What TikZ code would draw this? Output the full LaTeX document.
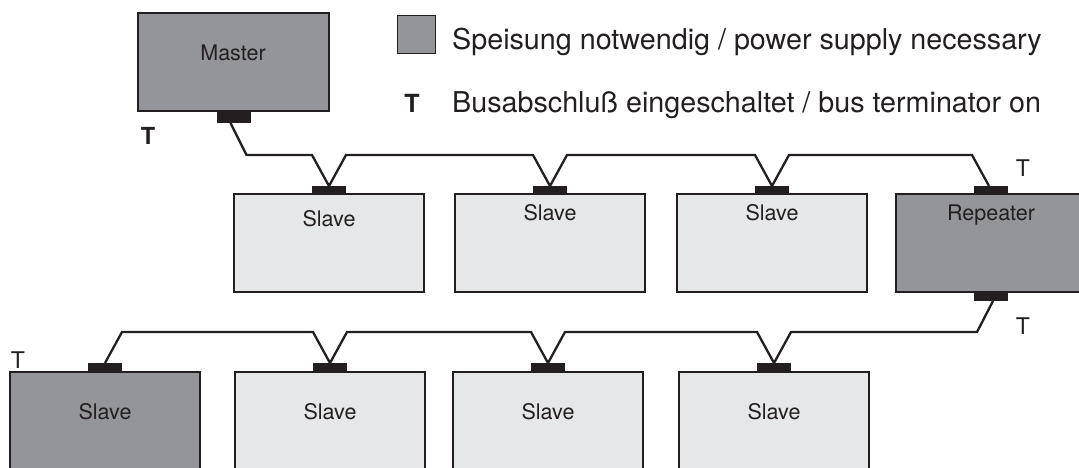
\documentclass[tikz,border=0pt]{standalone}
\usepackage{fontspec}
\setmainfont{TeX Gyre Heros}
\usetikzlibrary{calc}
\definecolor{ink}{HTML}{231F20}
\definecolor{darkfill}{HTML}{939598}
\definecolor{lightfill}{HTML}{E6E7E8}
\tikzset{
  box/.style={draw=ink, line width=1.4pt, minimum width=190pt, minimum height=98pt, inner sep=0pt, outer sep=0pt, anchor=north west},
  powered/.style={box, fill=darkfill},
  passive/.style={box, fill=lightfill},
  plug/.style={fill=ink, draw=none, minimum width=34pt, minimum height=8pt, inner sep=0pt, outer sep=0pt, anchor=south},
  cable/.style={draw=ink, line width=2.3pt, line join=miter},
  lbl/.style={font=\fontsize{21.5}{25}\selectfont, text=ink, anchor=base, inner sep=0pt},
  term/.style={font=\fontsize{23}{26}\selectfont, text=ink, anchor=base, inner sep=0pt},
  termb/.style={font=\fontsize{23.5}{26}\selectfont\bfseries, text=ink, anchor=base, inner sep=0pt},
  legend/.style={font=\fontsize{28.7}{32}\selectfont, text=ink, anchor=base west, inner sep=0pt}
}
\begin{document}
\begin{tikzpicture}[x=1pt,y=-1pt]
\path[use as bounding box, clip] (0,0) rectangle (1079,467);
% master
\node[powered, minimum width=191pt] (master) at (138,13) {};
\node[plug, anchor=north, minimum height=12pt] (pm) at (master.south) {};
% row 1
\node[passive] (s1) at (234,194) {};
\node[passive] (s2) at (455,194) {};
\node[passive] (s3) at (677,194) {};
\node[powered] (rep) at (896,194) {};
\node[plug] (p1) at (s1.north) {};
\node[plug] (p2) at (s2.north) {};
\node[plug] (p3) at (s3.north) {};
\node[plug] (pr) at (rep.north) {};
\node[plug, anchor=north, minimum height=9pt] (prb) at (rep.south) {};
% row 2
\node[powered] (s5) at (10,372) {};
\node[passive] (s6) at (235,372) {};
\node[passive] (s7) at (453,372) {};
\node[passive] (s8) at (679,372) {};
\node[plug, minimum height=9pt] (p5) at (s5.north) {};
\node[plug, minimum height=9pt] (p6) at (s6.north) {};
\node[plug, minimum height=9pt] (p7) at (s7.north) {};
\node[plug, minimum height=9pt] (p8) at (s8.north) {};
% cables
\draw[cable] ([xshift=-3pt]pm.south) -- ++(16,32)
  -- ($(p1.north)+(-17,-31)$) -- (p1.north) -- ++(17,-31)
  -- ($(p2.north)+(-17,-31)$) -- (p2.north) -- ++(17,-31)
  -- ($(p3.north)+(-17,-31)$) -- (p3.north) -- ++(17,-31)
  -- ($(pr.north)+(-19,-31)$) -- ([xshift=-2pt]pr.north);
\draw[cable] ([xshift=2pt]prb.south) -- ++(-16,31)
  -- ($(p8.north)+(17,-31)$) -- (p8.north) -- ++(-17,-31)
  -- ($(p7.north)+(17,-31)$) -- (p7.north) -- ++(-17,-31)
  -- ($(p6.north)+(17,-31)$) -- (p6.north) -- ++(-17,-31)
  -- ($(p5.north)+(17,-31)$) -- (p5.north);
% labels
\node[lbl] (tm) at (233,60) {Master};
\node[lbl] (t1) at (329,226) {Slave};
\node[lbl] (t2) at (550,220) {Slave};
\node[lbl] (t3) at (772,220) {Slave};
\node[lbl] (tr) at (991,220) {Repeater};
\node[lbl] (t5) at (105,419) {Slave};
\node[lbl] (t6) at (330,419) {Slave};
\node[lbl] (t7) at (548,419) {Slave};
\node[lbl] (t8) at (774,419) {Slave};
% terminators
\node[termb] (tmT) at (148,144) {T};
\node[term] (trT) at (1023,176) {T};
\node[term] (trbT) at (1023,334) {T};
\node[term] (t5T) at (18,368) {T};
% legend
\node[fill=darkfill, draw=ink, line width=1pt, minimum size=38pt, inner sep=0pt] (lsq) at (416,34) {};
\node[legend] (l1) at (452,49) {Speisung notwendig / power supply necessary};
\node[termb, font=\fontsize{25}{28}\selectfont\bfseries] (lT) at (412,112) {T};
\node[legend] (l2) at (452,112) {Busabschluß eingeschaltet / bus terminator on};
\end{tikzpicture}
\end{document}
